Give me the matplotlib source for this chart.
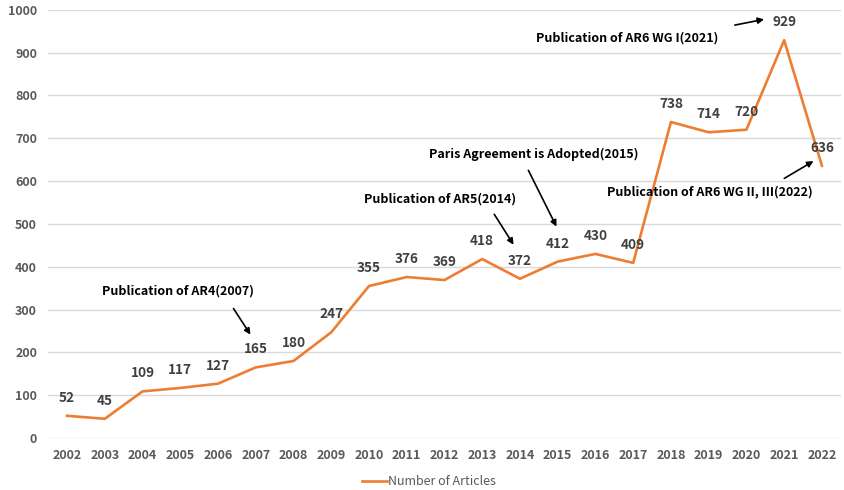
import matplotlib.pyplot as plt

plt.rcParams['font.family'] = ['Noto Sans CJK KR', 'DejaVu Sans']

years = [str(y) for y in range(2002, 2023)]
articles = [52, 45, 109, 117, 127, 165, 180, 247, 355, 376, 369,
            418, 372, 412, 430, 409, 738, 714, 720, 929, 636]

# events: text, text position (x index, y), arrow start, arrow end
events = [
    ("Publication of AR4(2007)", (2.94, 343), (4.37, 308), (4.90, 236)),
    ("Publication of AR5(2014)", (9.88, 558), (11.28, 528), (11.87, 446)),
    ("Paris Agreement is Adopted(2015)", (12.37, 663), (12.19, 631), (13.0, 488)),
    ("Publication of AR6 WG I(2021)", (14.83, 935), (17.62, 963), (18.54, 979)),
    ("Publication of AR6 WG II, III(2022)", (17.03, 575), (18.94, 603), (19.84, 650)),
]

fig = plt.figure(figsize=(8.45, 4.9), dpi=100)
ax = fig.add_axes([0.057, 0.106, 0.938, 0.874])

x = list(range(len(years)))
ax.plot(x, articles, color='#ED7D31', lw=1.9, label='Number of Articles')

for i, v in enumerate(articles):
    ax.annotate(str(v), (i, v), xytext=(0, 8), textcoords='offset points',
                ha='center', va='bottom', fontsize=9.8, fontweight='bold',
                color='#404040')

for txt, tpos, a0, a1 in events:
    ax.text(tpos[0], tpos[1], txt, ha='center', va='center', fontsize=9,
            fontweight='bold', color='black')
    ax.annotate('', xy=a1, xytext=a0,
                arrowprops=dict(arrowstyle='-|>', color='black', lw=1.2,
                                mutation_scale=9))

ax.set_xlim(-0.5, len(years) - 0.5)
ax.set_ylim(0, 1000)
ax.set_yticks(range(0, 1001, 100))
ax.set_xticks(x)
ax.set_xticklabels(years)
ax.grid(axis='y', color='#D9D9D9', lw=1)
ax.set_axisbelow(True)
for s in ax.spines.values():
    s.set_visible(False)
ax.tick_params(length=0, labelsize=9, colors='#595959', pad=8)
for lab in ax.get_xticklabels() + ax.get_yticklabels():
    lab.set_fontweight('bold')

ax.legend(loc='upper center', bbox_to_anchor=(0.48, -0.06), frameon=False,
          fontsize=9, handlelength=2, handletextpad=0.1, labelcolor='#595959')

fig.savefig('out.png')
